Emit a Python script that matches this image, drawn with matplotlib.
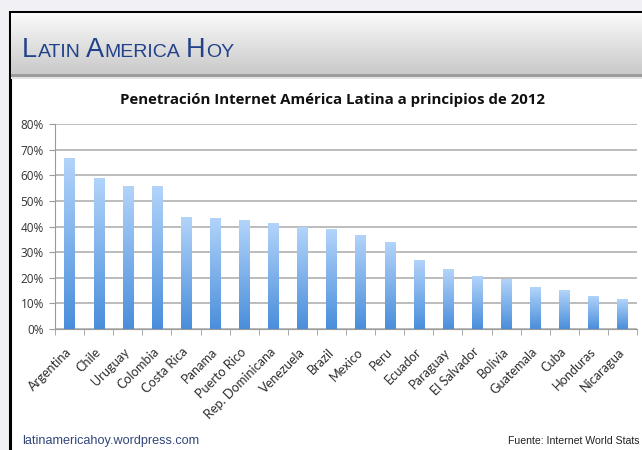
import numpy as np
import matplotlib
matplotlib.use("Agg")
import matplotlib.pyplot as plt
from matplotlib.patches import Rectangle
from matplotlib.ticker import FuncFormatter, FixedLocator
from matplotlib.transforms import ScaledTranslation

countries = ["Argentina", "Chile", "Uruguay", "Colombia", "Costa Rica", "Panama",
             "Puerto Rico", "Rep. Dominicana", "Venezuela", "Brazil", "Mexico", "Peru",
             "Ecuador", "Paraguay", "El Salvador", "Bolivia", "Guatemala", "Cuba",
             "Honduras", "Nicaragua"]
penetration = [66.9, 59.1, 56.0, 55.7, 43.6, 43.4, 42.5, 41.3, 39.8, 38.9,
               36.8, 34.0, 27.1, 23.4, 20.6, 19.4, 16.4, 15.2, 13.0, 11.6]
y_ticks = [0, 10, 20, 30, 40, 50, 60, 70, 80]

title = u"Penetración Internet América Latina a principios de 2012"
site = "latinamericahoy.wordpress.com"
source = "Fuente: Internet World Stats"

W, H = 642, 450
fig = plt.figure(figsize=(W / 100, H / 100), dpi=100, facecolor="#f0f0f5")

# page frame drawn in pixel units
bg = fig.add_axes([0, 0, 1, 1])
bg.set_xlim(0, W)
bg.set_ylim(H, 0)
bg.axis("off")
bg.add_patch(Rectangle((9.5, 12), W + 20, H + 20, facecolor="white",
                       edgecolor="black", lw=2.2, zorder=1))
g = np.linspace(0, 1, 64)[:, None, None]
top_c = np.array([0.98, 0.98, 0.98])[None, None, :]
bot_c = np.array([0.79, 0.79, 0.79])[None, None, :]
hdr = top_c * (1 - g) + bot_c * g
bg.imshow(hdr, extent=[11, W, 74, 13.5], aspect="auto", zorder=2)
bg.add_patch(Rectangle((11, 74), W, 3, facecolor="#9c9c9c", edgecolor="none", zorder=3))
bg.add_patch(Rectangle((11, 77), W, 1.5, facecolor="#e4e4e4", edgecolor="none", zorder=3))
bg.set_xlim(0, W)
bg.set_ylim(H, 0)

# small-caps masthead
fig.canvas.draw()
rend = fig.canvas.get_renderer()
x = 22
for piece, size in [("L", 19.5), ("ATIN", 14), (" ", 0), ("A", 19.5), ("MERICA", 14),
                    (" ", 0), ("H", 19.5), ("OY", 14)]:
    if piece == " ":
        x += 5
        continue
    t = bg.text(x, 57, piece, fontsize=size, family="Liberation Sans", color="#22418a",
                va="baseline", ha="left", zorder=5)
    x += t.get_window_extent(rend).width + 0.5

bg.text(332, 100, title, fontsize=10.8, fontweight="bold", family="Open Sans",
        color="#111111", ha="center", va="center", zorder=5)
bg.text(22, 441, site, fontsize=9.1, family="Liberation Sans", color="#33467a",
        ha="left", va="center", zorder=5)
bg.text(639, 441, source, fontsize=7.6, family="Liberation Sans", color="#222222",
        ha="right", va="center", zorder=5)

# chart area
ax = fig.add_axes([55 / W, 1 - 329 / H, 582 / W, 204.7 / H])
ax.set_facecolor("none")
xs = np.arange(len(countries))
bars = ax.bar(xs, penetration, width=0.35, color="#7fb2ea", zorder=3)
cmap = matplotlib.colors.LinearSegmentedColormap.from_list("blu", ["#4a8edb", "#b2d4fa"])
ramp = np.linspace(0, 1, 128)[:, None]
for b in bars:
    im = ax.imshow(ramp, cmap=cmap, origin="lower", aspect="auto",
                   extent=[b.get_x(), b.get_x() + b.get_width(), 0, b.get_height()],
                   zorder=4)
    im.set_clip_path(b)

ax.set_xlim(-0.5, len(countries) - 0.5)
ax.set_ylim(0, 80)
ax.yaxis.set_major_locator(FixedLocator(y_ticks))
ax.yaxis.set_major_formatter(FuncFormatter(lambda v, p: "%d%%" % v))
ax.grid(axis="y", color="#a9a9a9", lw=1.1, zorder=1)
for s in ["top", "right"]:
    ax.spines[s].set_visible(False)
ax.spines["left"].set_color("#9a9a9a")
ax.spines["bottom"].set_color("#9a9a9a")
ax.tick_params(axis="y", length=4, color="#9a9a9a", labelsize=8.5, labelcolor="#333333", pad=4)
for lab in ax.get_yticklabels():
    lab.set_family("Open Sans")

ax.set_xticks(xs)
ax.set_xticklabels(countries, rotation=45, ha="right", rotation_mode="anchor",
                   fontsize=9.2, color="#2e2e2e", family="Lato")
ax.tick_params(axis="x", which="major", length=0, pad=12)
shift = ScaledTranslation(-0.04, 0, fig.dpi_scale_trans)
for lab in ax.get_xticklabels():
    lab.set_transform(lab.get_transform() + shift)
ax.set_xticks(np.arange(-0.5, len(countries)), minor=True)
ax.tick_params(axis="x", which="minor", length=4, color="#9a9a9a")

fig.savefig("out.png", dpi=100, facecolor=fig.get_facecolor())
